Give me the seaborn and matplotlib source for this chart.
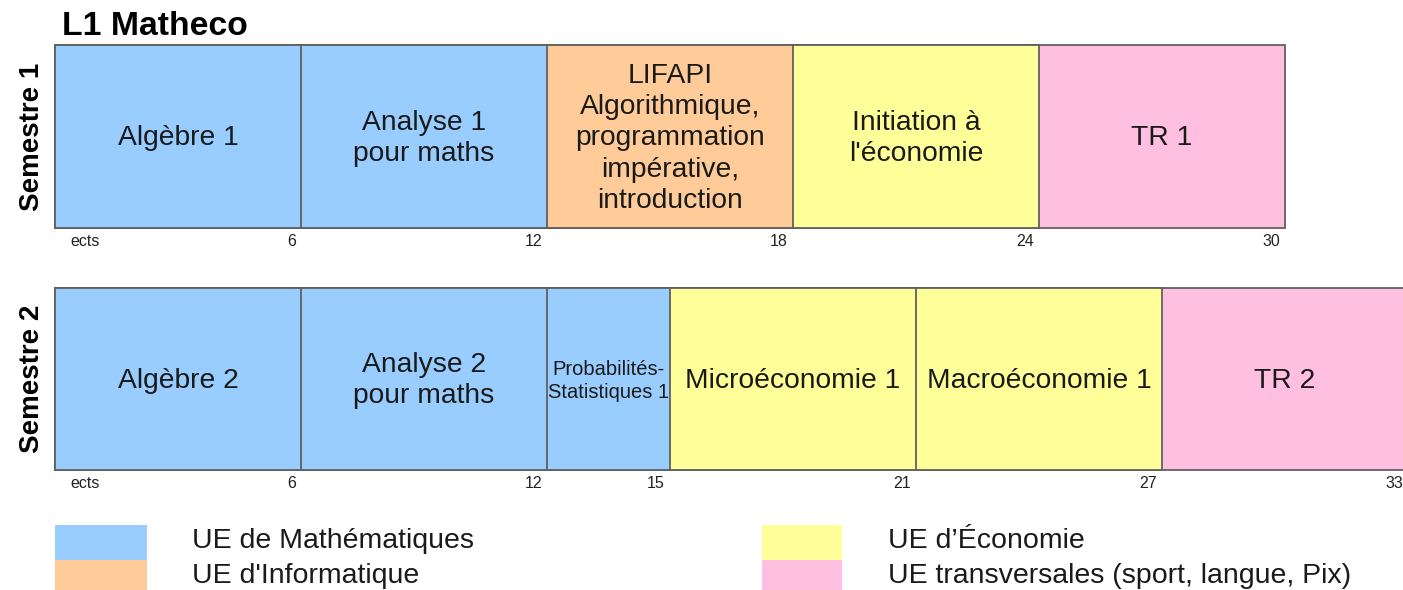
import pandas as pd
import matplotlib.pyplot as plt
import matplotlib.transforms as mtransforms
from matplotlib.patches import Rectangle
import seaborn as sns

# données
sem1_courses = ["Algèbre 1", "Analyse 1\npour maths",
                "LIFAPI\nAlgorithmique,\nprogrammation\nimpérative,\nintroduction",
                "Initiation à\nl'économie", "TR 1"]
sem1_ects = [6, 6, 6, 6, 6]
sem1_type = ["math", "math", "info", "eco", "tr"]
sem1_ticks = [6, 12, 18, 24, 30]

sem2_courses = ["Algèbre 2", "Analyse 2\npour maths", "Probabilités-\nStatistiques 1",
                "Microéconomie 1", "Macroéconomie 1", "TR 2"]
sem2_ects = [6, 6, 3, 6, 6, 6]
sem2_type = ["math", "math", "math", "eco", "eco", "tr"]
sem2_ticks = [6, 12, 15, 21, 27, 33]

type_colors = {"math": "#99ccff", "info": "#ffcc99", "eco": "#ffff99", "tr": "#ffbfe0"}
legend_left = [("math", "UE de Mathématiques"), ("info", "UE d'Informatique")]
legend_right = [("eco", "UE d’Économie"), ("tr", "UE transversales (sport, langue, Pix)")]

sns.set_theme(style="white")
plt.rcParams['font.family'] = ['Liberation Sans', 'DejaVu Sans']

W, H = 1403, 590
fig = plt.figure(figsize=(W / 100, H / 100), dpi=100)
EDGE = "#606060"


def draw_semester(rect, name, courses, ects, types, ticks):
    ax = fig.add_axes(rect)
    df = pd.DataFrame({"course": courses, "ects": ects, "type": types})
    df["end"] = df["ects"].cumsum()
    df["start"] = df["end"] - df["ects"]
    df["sem"] = name
    # barres cumulées, de la plus longue à la plus courte
    order = list(df["course"][::-1])
    pal = {c: type_colors[t] for c, t in zip(df["course"], df["type"])}
    sns.barplot(data=df, x="end", y="sem", hue="course", hue_order=order,
                palette=pal, dodge=False, orient="h", width=1, saturation=1,
                edgecolor=EDGE, linewidth=1.3, legend=False, ax=ax)
    for p in ax.patches:
        p.set_clip_on(False)
    ax.set_xlim(0, 1348 / 41)
    ax.set_ylim(0.5, -0.5)
    ax.set_yticks([])
    ax.set_xticks([])
    ax.set_xlabel("")
    ax.set_ylabel(name, fontsize=20, fontweight="bold", labelpad=7, color="black")
    for s in ax.spines.values():
        s.set_visible(False)
    for _, r in df.iterrows():
        fs = 14.5 if r["ects"] < 6 else 20.3
        ax.text((r["start"] + r["end"]) / 2, 0.01, r["course"], ha="center",
                va="center", fontsize=fs, color="#1a1a1a", linespacing=1.26)
    tr = ax.get_xaxis_transform()
    ax.text(0, -0.075, "ects", transform=tr + mtransforms.ScaledTranslation(15 / 100, 0, fig.dpi_scale_trans),
            ha="left", va="center", fontsize=11.5, color="#222222")
    for t in ticks:
        ax.text(t, -0.075, str(t), transform=tr + mtransforms.ScaledTranslation(-5 / 100, 0, fig.dpi_scale_trans),
                ha="right", va="center", fontsize=11.5, color="#222222")
    return ax


draw_semester([55 / W, 1 - 228 / H, 1348 / W, 183 / H], "Semestre 1",
              sem1_courses, sem1_ects, sem1_type, sem1_ticks)
draw_semester([55 / W, 1 - 470 / H, 1348 / W, 182 / H], "Semestre 2",
              sem2_courses, sem2_ects, sem2_type, sem2_ticks)

fig.text(62 / W, 1 - 35 / H, "L1 Matheco", fontsize=24.3, fontweight="bold",
         ha="left", va="baseline", color="black")

# légende
for col, (x0, w, xt) in zip([legend_left, legend_right], [(55, 92, 192), (762, 80, 888)]):
    for i, (k, label) in enumerate(col):
        y0 = 525 + i * 35
        fig.add_artist(Rectangle((x0 / W, 1 - (y0 + 35) / H), w / W, 35 / H,
                                 transform=fig.transFigure, facecolor=type_colors[k],
                                 edgecolor="none"))
        fig.text(xt / W, 1 - (y0 + 16) / H, label, fontsize=20.5, ha="left",
                 va="center", color="#1a1a1a")

fig.savefig("out.png", dpi=100)
